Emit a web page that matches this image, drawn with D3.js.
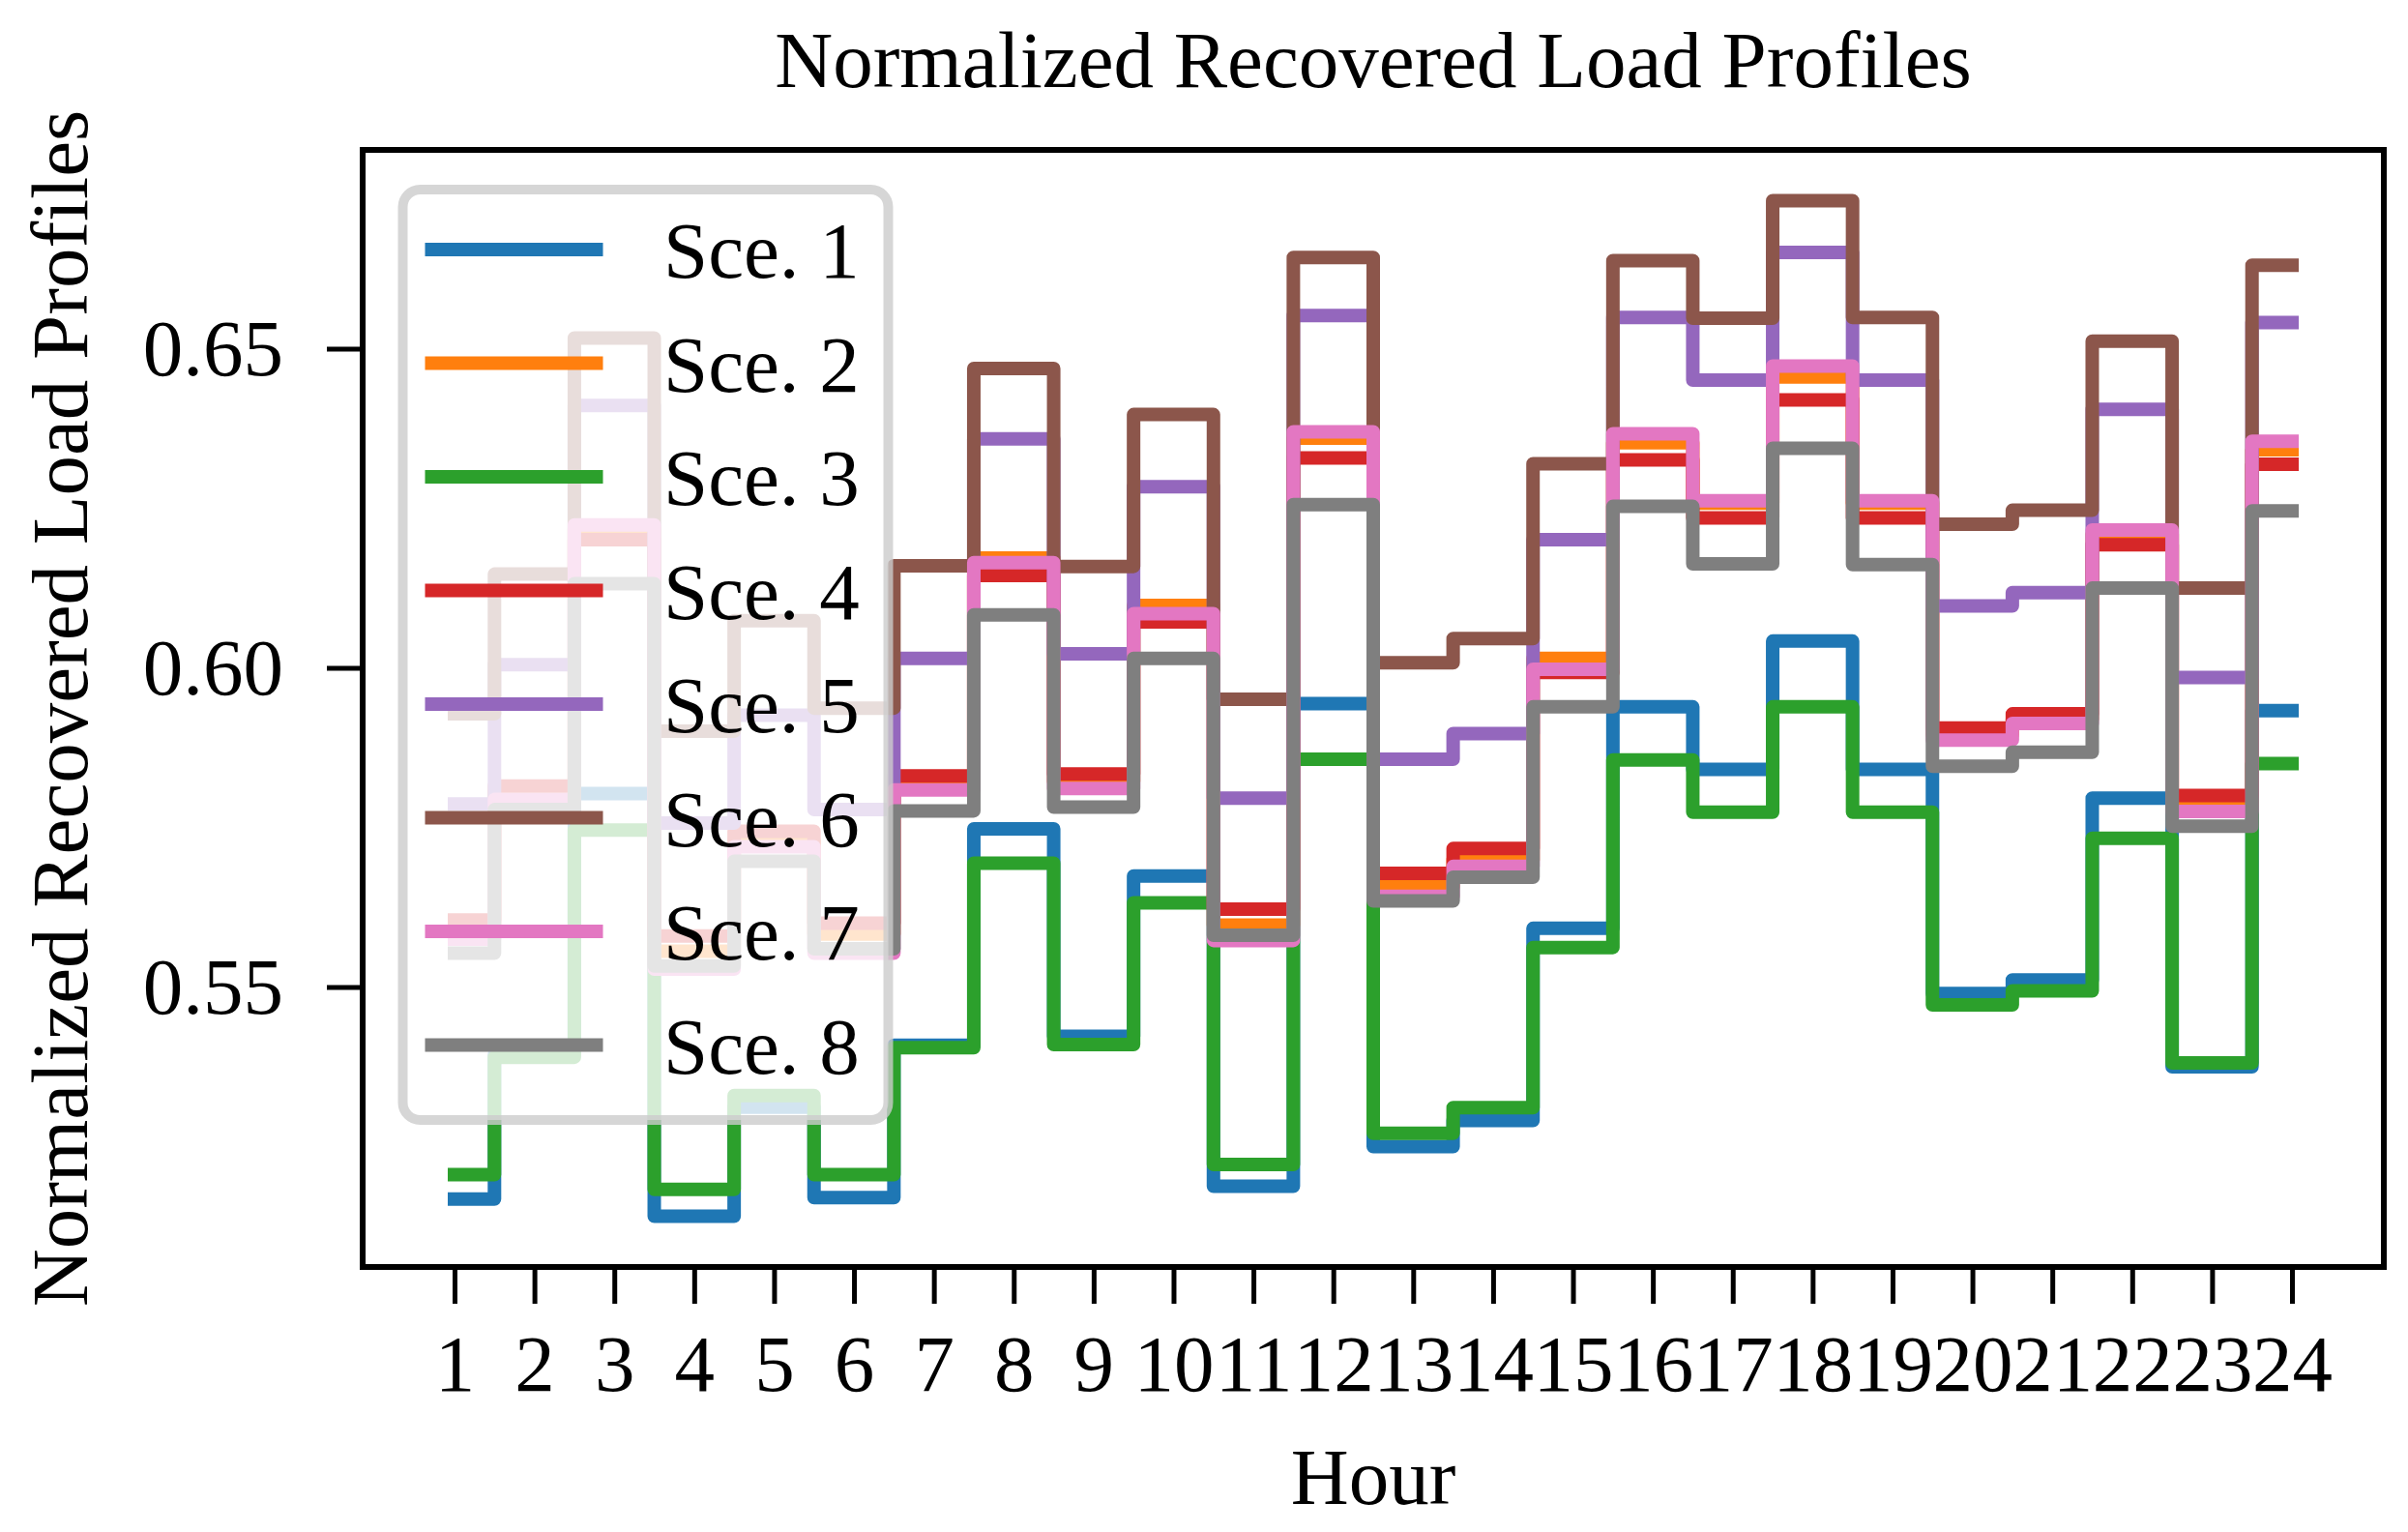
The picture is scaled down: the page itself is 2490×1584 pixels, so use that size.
<!DOCTYPE html>
<html>
<head>
<meta charset="utf-8">
<script src="https://cdn.jsdelivr.net/npm/d3@7"></script>
<style>
  body { margin: 0; background: #fff; }
  text { font-family: "Liberation Serif", "Times New Roman", serif; }
</style>
</head>
<body>
<div id="chart"></div>
<script>
// hours on the x axis
var hours = [1, 2, 3, 4, 5, 6, 7, 8, 9, 10, 11, 12, 13, 14, 15, 16, 17, 18, 19, 20, 21, 22, 23, 24];

// recovered load profiles, one array per scenario
var sce1 = [0.5168, 0.5395, 0.5803, 0.5141, 0.5312, 0.5170, 0.5409, 0.5748, 0.5423, 0.5674, 0.5188, 0.5944,
            0.5250, 0.5291, 0.5592, 0.5939, 0.5841, 0.6042, 0.5841, 0.5490, 0.5511, 0.5796, 0.5375, 0.5933];
var sce2 = [0.5590, 0.5805, 0.6218, 0.5556, 0.5730, 0.5583, 0.5820, 0.6172, 0.5822, 0.6098, 0.5597, 0.6360,
            0.5657, 0.5699, 0.6015, 0.6353, 0.6258, 0.6456, 0.6258, 0.5896, 0.5920, 0.6210, 0.5787, 0.6342];
var sce3 = [0.5206, 0.5390, 0.5746, 0.5183, 0.5330, 0.5206, 0.5405, 0.5694, 0.5410, 0.5632, 0.5222, 0.5857,
            0.5271, 0.5311, 0.5562, 0.5856, 0.5774, 0.5939, 0.5774, 0.5472, 0.5494, 0.5733, 0.5381, 0.5850];
var sce4 = [0.5605, 0.5815, 0.6201, 0.5580, 0.5744, 0.5600, 0.5831, 0.6145, 0.5834, 0.6072, 0.5622, 0.6329,
            0.5678, 0.5717, 0.5993, 0.6326, 0.6235, 0.6420, 0.6235, 0.5906, 0.5928, 0.6193, 0.5800, 0.6319];
var sce5 = [0.5787, 0.6005, 0.6411, 0.5757, 0.5926, 0.5778, 0.6015, 0.6359, 0.6022, 0.6284, 0.5796, 0.6552,
            0.5857, 0.5897, 0.6201, 0.6549, 0.6451, 0.6651, 0.6451, 0.6097, 0.6118, 0.6405, 0.5985, 0.6541];
var sce6 = [0.5928, 0.6147, 0.6517, 0.5901, 0.6074, 0.5937, 0.6160, 0.6469, 0.6159, 0.6397, 0.5951, 0.6643,
            0.6008, 0.6046, 0.6320, 0.6638, 0.6548, 0.6732, 0.6549, 0.6225, 0.6247, 0.6512, 0.6125, 0.6631];
var sce7 = [0.5575, 0.5794, 0.6224, 0.5528, 0.5720, 0.5553, 0.5809, 0.6165, 0.5811, 0.6085, 0.5573, 0.6370,
            0.5642, 0.5689, 0.5998, 0.6367, 0.6262, 0.6473, 0.6262, 0.5887, 0.5913, 0.6216, 0.5775, 0.6355];
var sce8 = [0.5553, 0.5778, 0.6132, 0.5533, 0.5697, 0.5560, 0.5776, 0.6083, 0.5782, 0.6015, 0.5581, 0.6256,
            0.5635, 0.5672, 0.5939, 0.6253, 0.6163, 0.6344, 0.6162, 0.5846, 0.5868, 0.6125, 0.5752, 0.6246];

var seriesNames = ["Sce. 1", "Sce. 2", "Sce. 3", "Sce. 4", "Sce. 5", "Sce. 6", "Sce. 7", "Sce. 8"];
var seriesValues = [sce1, sce2, sce3, sce4, sce5, sce6, sce7, sce8];
var yTicks = [0.55, 0.60, 0.65];

var W = 2490, H = 1584;
var margin = {top: 155, right: 25, bottom: 274, left: 375};
var fontSize = 83;
var lineW = 14;

var svg = d3.select("#chart").append("svg")
    .attr("width", W)
    .attr("height", H);

svg.append("rect").attr("width", W).attr("height", H).attr("fill", "#fff");

var innerW = W - margin.left - margin.right;
var innerH = H - margin.top - margin.bottom;

var g = svg.append("g")
    .attr("transform", "translate(" + margin.left + "," + margin.top + ")");

// matplotlib-like 5% margins on both axes
var xPad = (d3.max(hours) - d3.min(hours)) * 0.05;
var x = d3.scaleLinear()
    .domain([d3.min(hours) - xPad, d3.max(hours) + xPad])
    .range([0, innerW]);

var allVals = d3.merge(seriesValues);
var yMin = d3.min(allVals), yMax = d3.max(allVals);
var yPad = (yMax - yMin) * 0.05;
var y = d3.scaleLinear()
    .domain([yMin - yPad, yMax + yPad])
    .range([innerH, 0]);

var color = d3.scaleOrdinal().domain(seriesNames).range(d3.schemeCategory10);

// step lines (where='mid')
var line = d3.line()
    .x(function(d) { return x(d.hour); })
    .y(function(d) { return y(d.v); })
    .curve(d3.curveStep);

var series = seriesNames.map(function(name, i) {
    return {
        name: name,
        points: hours.map(function(h, j) { return {hour: h, v: seriesValues[i][j]}; })
    };
});

g.selectAll("path.series")
    .data(series)
    .enter()
    .append("path")
    .attr("class", "series")
    .attr("d", function(d) { return line(d.points); })
    .attr("fill", "none")
    .attr("stroke", function(d) { return color(d.name); })
    .attr("stroke-width", lineW)
    .attr("stroke-linejoin", "round")
    .attr("stroke-linecap", "square");

// axes
var xAxis = g.append("g")
    .attr("transform", "translate(0," + innerH + ")")
    .call(d3.axisBottom(x).tickValues(hours).tickSize(38).tickPadding(31).tickFormat(d3.format("d")));

var yAxis = g.append("g")
    .call(d3.axisLeft(y).tickValues(yTicks).tickSize(37).tickPadding(45).tickFormat(d3.format(".2f")));

[xAxis, yAxis].forEach(function(a) {
    a.select(".domain").remove();
    a.selectAll(".tick line").attr("stroke", "#000").attr("stroke-width", 5);
    a.selectAll(".tick text")
        .attr("fill", "#000")
        .style("font-size", fontSize + "px")
        .style("font-family", "'Liberation Serif', 'Times New Roman', serif");
});

// frame
g.append("rect")
    .attr("width", innerW)
    .attr("height", innerH)
    .attr("fill", "none")
    .attr("stroke", "#000")
    .attr("stroke-width", 6);

// legend
var legend = g.append("g")
    .attr("transform", "translate(41.5,41)");

legend.append("rect")
    .attr("width", 502)
    .attr("height", 962)
    .attr("rx", 18)
    .attr("fill", "#fff")
    .attr("fill-opacity", 0.8)
    .attr("stroke", "#cccccc")
    .attr("stroke-opacity", 0.8)
    .attr("stroke-width", 10);

var items = legend.selectAll("g.item")
    .data(seriesNames)
    .enter()
    .append("g")
    .attr("class", "item")
    .attr("transform", function(d, i) { return "translate(0," + (62 + i * 117.5) + ")"; });

items.append("line")
    .attr("x1", 30)
    .attr("x2", 200)
    .attr("stroke", function(d) { return color(d); })
    .attr("stroke-width", lineW)
    .attr("stroke-linecap", "square");

items.append("text")
    .attr("x", 269.5)
    .attr("dy", "0.35em")
    .style("font-size", fontSize + "px")
    .text(function(d) { return d; });

// title and axis labels
svg.append("text")
    .attr("x", margin.left + innerW / 2)
    .attr("y", 90)
    .attr("text-anchor", "middle")
    .style("font-size", fontSize + "px")
    .text("Normalized Recovered Load Profiles");

svg.append("text")
    .attr("x", margin.left + innerW / 2)
    .attr("y", 1555)
    .attr("text-anchor", "middle")
    .style("font-size", fontSize + "px")
    .text("Hour");

svg.append("text")
    .attr("transform", "translate(90," + (margin.top + innerH / 2) + ") rotate(-90)")
    .attr("text-anchor", "middle")
    .style("font-size", fontSize + "px")
    .text("Normalized Recovered Load Profiles");
</script>
</body>
</html>
